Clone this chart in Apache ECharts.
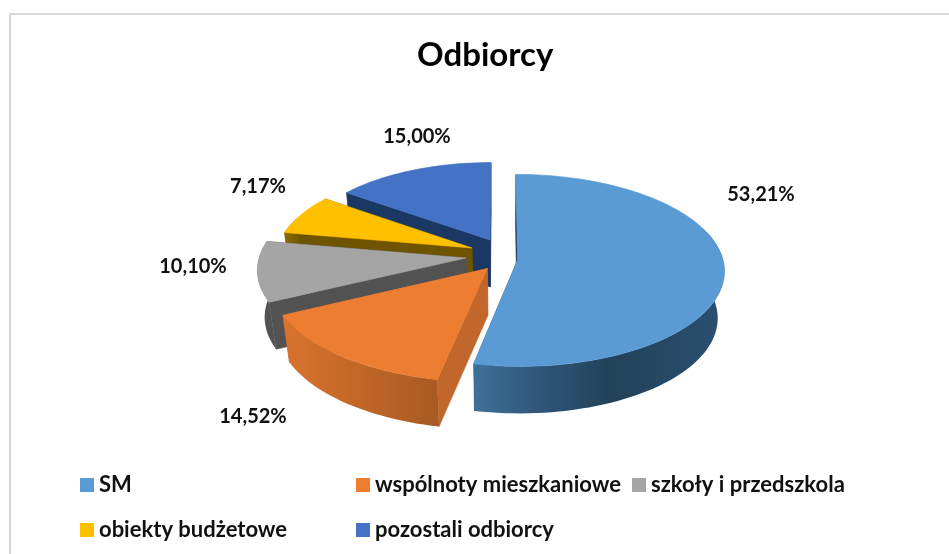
<!DOCTYPE html>
<html><head><meta charset="utf-8">
<style>html,body{margin:0;padding:0;background:#fff}#c{width:949px;height:554px}</style>
<script src="https://cdn.jsdelivr.net/npm/echarts@6/dist/echarts.min.js"></script>
</head><body><div id="c"></div>
<script>
const categories = ['SM','wspólnoty mieszkaniowe','szkoły i przedszkola','obiekty budżetowe','pozostali odbiorcy'];
const shares = [53.21,14.52,10.10,7.17,15.00];
const titleText = 'Odbiorcy';

const topColors = ['#5b9bd5','#ed7d31','#a5a5a5','#ffc000','#4472c4'];
const radialColors = ['#24435f','#c2672b','#525252','#6f5400','#1b3763'];
const wallStops = [
  [[0,'#3f7099'],[0.3,'#2d5375'],[0.55,'#234259'],[1,'#2a4f70']],
  [[0,'#d9732d'],[1,'#a85a22']],
  [[0,'#555555'],[1,'#525252']],
  [[0,'#8a6a00'],[1,'#6f5400']],
  [[0,'#1b3763'],[1,'#1b3763']]
];
const explodeX = [0.085,-0.06,-0.164,-0.137,-0.049];
const explodeY = [-0.021,-0.11,0,0.106,0.193];
const radii = [0.99,1.03,1,0.95,0.93];
const labelX = [761,253,193,258,417];
const labelY = [195,417,267,187,137];
const legendLeft = [80,356,632,80,356];
const legendTop = [474,474,474,519,519];
const drawDepth = [5,4,3,2,1];

const CX=500, CY=258, SX=207, SY=95.4, K=0.109, H=47, SHRINK=0.97;
const total = shares.reduce((a,b)=>a+b,0);
const starts = shares.map((_,i)=>shares.slice(0,i).reduce((a,b)=>a+b,0)/total*360);

function proj(X,Y){const d=1+K*Y;return [CX+SX*X/d,CY-SY*Y/d];}
function lower(p){return [CX+(p[0]-CX)*SHRINK,p[1]+H];}
function rim(i,deg){const t=deg*Math.PI/180;
  return proj(explodeX[i]+radii[i]*Math.sin(t),explodeY[i]+radii[i]*Math.cos(t));}
function arc(i,a,b){const n=Math.max(2,Math.ceil(Math.abs(b-a)/2)),out=[];
  for(let k=0;k<=n;k++)out.push(rim(i,a+(b-a)*k/n));return out;}
function wallPolygon(line){return line.concat(line.map(lower).reverse());}
function fmt(v){return v.toFixed(2).replace('.',',')+'%';}

function makeRender(i){return function(params,api){
  const v=api.value(0), a=starts[i], b=a+v/total*360;
  const apex=proj(explodeX[i],explodeY[i]);
  const kids=[];
  const poly=(pts,fill,stroke)=>kids.push({type:'polygon',shape:{points:pts},
    style:{fill:fill,stroke:stroke||fill,lineWidth:0.6}});
  poly(wallPolygon([apex,rim(i,a)]),radialColors[i]);
  poly(wallPolygon([apex,rim(i,b)]),radialColors[i]);
  const wa=Math.max(a,70), wb=Math.min(b,290);
  if(wb>wa){
    const stops=wallStops[i].map(s=>({offset:s[0],color:s[1]}));
    const grad=new echarts.graphic.LinearGradient(0,0,1,0,stops);
    poly(wallPolygon(arc(i,wa,wb)),grad,'transparent');
  }
  poly([apex].concat(arc(i,a,b)),topColors[i]);
  kids.push({type:'text',z2:50,style:{x:labelX[i],y:labelY[i],text:fmt(v),fill:'#111111',
    font:'bold 20px Lato',align:'center',verticalAlign:'middle'}});
  return {type:'group',children:kids};
};}

const chart=echarts.init(document.getElementById('c'),null,{renderer:'canvas'});
chart.setOption({
  animation:false,
  backgroundColor:'#ffffff',
  title:{text:titleText,left:417,top:39,padding:0,
    textStyle:{fontFamily:'Lato',fontWeight:'bold',fontSize:33,color:'#000'}},
  graphic:[{type:'rect',silent:true,z:-10,shape:{x:10,y:14,width:1100,height:800},
    style:{fill:'#fff',stroke:'#d9d9d9',lineWidth:2}}],
  legend:categories.map((c,i)=>({data:[c],left:legendLeft[i],top:legendTop[i],padding:0,
    selectedMode:false,icon:'rect',itemWidth:14,itemHeight:14,
    textStyle:{fontFamily:'Lato',fontWeight:'bold',fontSize:22,color:'#111111'}})),
  series:categories.map((c,i)=>({type:'custom',name:c,coordinateSystem:'none',z:drawDepth[i],
    silent:true,itemStyle:{color:topColors[i]},renderItem:makeRender(i),data:[[shares[i]]]}))
});
</script></body></html>
